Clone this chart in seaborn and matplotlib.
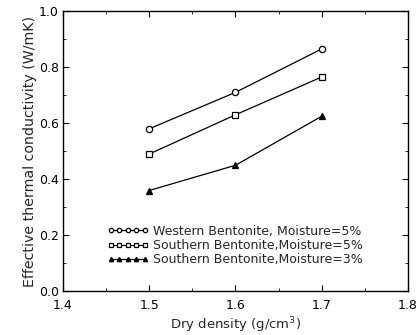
import pandas as pd
import numpy as np
import matplotlib.pyplot as plt
import seaborn as sns
from matplotlib.ticker import MultipleLocator

sns.set_style("ticks")
plt.rcParams['font.family'] = ['DejaVu Sans']

density = [1.5, 1.6, 1.7]
western_5 = [0.58, 0.71, 0.865]
southern_5 = [0.49, 0.63, 0.765]
southern_3 = [0.36, 0.45, 0.625]
labels = ["Western Bentonite, Moisture=5%",
          "Southern Bentonite,Moisture=5%",
          "Southern Bentonite,Moisture=3%"]

fig = plt.figure(figsize=(4.19, 3.35), dpi=100)
ax = fig.add_axes([0.150, 0.13, 0.824, 0.837])

styles = [("o", "white"), ("s", "white"), ("^", "black")]
for vals, lab, (m, fc) in zip([western_5, southern_5, southern_3], labels, styles):
    sns.lineplot(x=density, y=vals, ax=ax, color="black", linewidth=0.9,
                 marker=m, markersize=4.5, markerfacecolor=fc,
                 markeredgecolor="black", markeredgewidth=0.9, label=lab)

ax.set_xlim(1.4, 1.8)
ax.set_ylim(0.0, 1.0)
ax.xaxis.set_major_locator(MultipleLocator(0.1))
ax.xaxis.set_minor_locator(MultipleLocator(0.05))
ax.yaxis.set_major_locator(MultipleLocator(0.2))
ax.yaxis.set_minor_locator(MultipleLocator(0.1))
ax.tick_params(which="both", direction="in", top=True, right=True,
               colors="black", labelsize=9)
ax.tick_params(axis="x", pad=5.5)
ax.tick_params(axis="y", pad=3)
ax.tick_params(which="major", length=4)
ax.tick_params(which="minor", length=2.5)
for s in ax.spines.values():
    s.set_color("black")
    s.set_linewidth(1.0)

ax.set_xlabel("Dry density (g/cm$^3$)", fontsize=9.5)
ax.xaxis.set_label_coords(0.5, -0.087)
ax.set_ylabel("Effective thermal conductivity (W/mK)", fontsize=10.2, labelpad=1)

ax.legend(loc="lower left", bbox_to_anchor=(0.128, 0.09), frameon=False,
          numpoints=5, handlelength=3.3, handletextpad=0.4, labelspacing=0.1,
          fontsize=9, markerscale=0.7, borderpad=0, borderaxespad=0)

fig.savefig("out.png", dpi=100)
